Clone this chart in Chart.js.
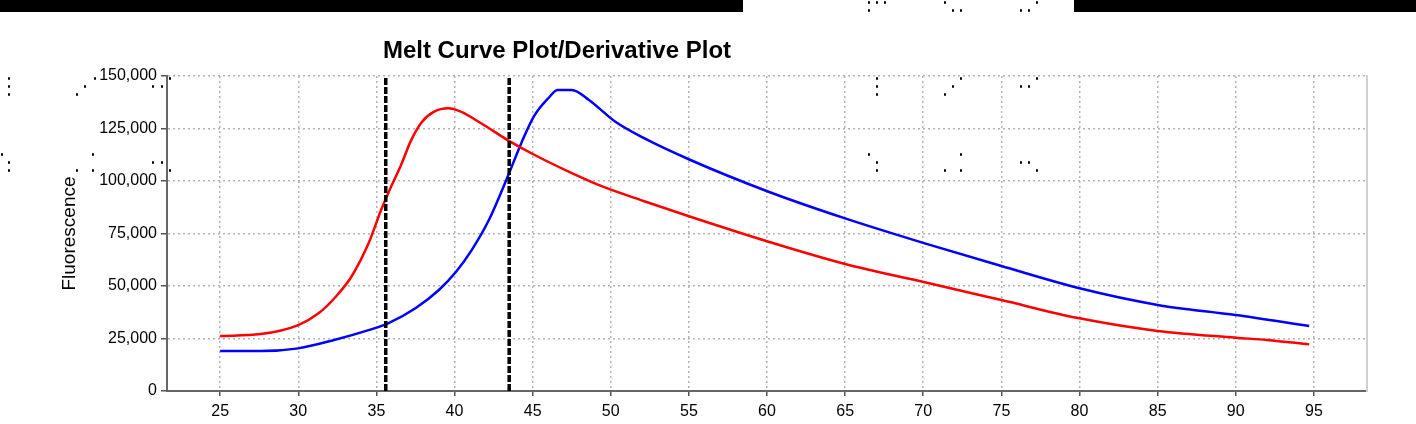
<!DOCTYPE html>
<html>
<head>
<meta charset="utf-8">
<script src="https://cdn.jsdelivr.net/npm/chart.js@4.4.1/dist/chart.umd.min.js"></script>
<style>
  html, body { margin: 0; padding: 0; background: #fff; }
  #wrap { position: relative; width: 1416px; height: 424px; overflow: hidden; }
  #title {
    position: absolute; left: 557px; top: 38px; transform: translateX(-50%);
    font: bold 24px "Liberation Sans", Arial, sans-serif; line-height: 24px;
    color: #000; white-space: nowrap;
  }
  .bar { position: absolute; top: 0; height: 12px; background: #000; }
  .dot { position: absolute; width: 2px; height: 3px; background: #000; border-radius: 1px; }
</style>
</head>
<body>
<div id="wrap">
  <canvas id="chart" width="1416" height="424"></canvas>
  <div id="title">Melt Curve Plot/Derivative Plot</div>
  <div class="bar" style="left:0; width:743px;"></div>
  <div class="bar" style="left:1074px; width:342px;"></div>
</div>
<script>
// 온도 (x) 와 형광값 (y)
const redTemps = [25, 27.6, 30, 31.3, 32.4, 33.4, 34.5, 35.3, 35.75, 36.6, 37.2, 37.9, 38.7, 39.6, 40.4, 41.7, 43.4, 45.1, 47.3, 49.5, 52.1, 55.1, 60.1, 65, 70.1, 75, 80, 85, 90, 92, 94.7];
const redValues = [26200, 27100, 31400, 37000, 44900, 54400, 70300, 86200, 94100, 108000, 119000, 128000, 133000, 134600, 133000, 127500, 119500, 112500, 104500, 97300, 90500, 83000, 71100, 60500, 51800, 43300, 34600, 28600, 25400, 24300, 22200];

const blueTemps = [25, 27.6, 30, 32.3, 34.5, 35.75, 37.5, 39, 40.1, 41.1, 42.2, 43.4, 44.3, 45.1, 46, 46.6, 47.5, 48.6, 50.3, 52.1, 55.1, 60.1, 65, 70.1, 75, 80, 85, 90, 94.7];
const blueValues = [19000, 19000, 20300, 24300, 29000, 32200, 39400, 48100, 56800, 67100, 81400, 102000, 118500, 131000, 139400, 143300, 143300, 138600, 128200, 120500, 110000, 94900, 82200, 70300, 59500, 48900, 41000, 36200, 31000];

// 세로 기준선 (Tm)
const markerTemps = [35.6, 43.5];

const xTicks = [25, 30, 35, 40, 45, 50, 55, 60, 65, 70, 75, 80, 85, 90, 95];
const yTicks = [0, 25000, 50000, 75000, 100000, 125000, 150000];

const FONT = '"Liberation Sans", Arial, sans-serif';

const toPoints = (xs, ys) => xs.map((x, i) => ({ x: x, y: ys[i] }));

const markerSets = markerTemps.map(t => ({
    data: [{ x: t, y: yTicks[0] }, { x: t, y: yTicks[yTicks.length - 1] }],
    borderColor: '#000',
    borderWidth: 3.5,
    borderDash: [7, 2],
    pointRadius: 0,
    order: 0
}));

new Chart(document.getElementById('chart'), {
    type: 'line',
    data: {
        datasets: [
            ...markerSets,
            {
                data: toPoints(redTemps, redValues),
                borderColor: '#ff0000',
                borderWidth: 2.5,
                pointRadius: 0,
                cubicInterpolationMode: 'monotone',
                order: 1
            },
            {
                data: toPoints(blueTemps, blueValues),
                borderColor: '#0000ff',
                borderWidth: 2.5,
                pointRadius: 0,
                cubicInterpolationMode: 'monotone',
                order: 1
            }
        ]
    },
    options: {
        responsive: false,
        animation: false,
        layout: { padding: { left: 0, right: 49, top: 76, bottom: 0 } },
        plugins: {
            legend: { display: false },
            tooltip: { enabled: false }
        },
        scales: {
            x: {
                type: 'linear',
                min: 21.6,
                max: 98.4,
                afterBuildTicks: scale => { scale.ticks = xTicks.map(v => ({ value: v })); },
                afterFit: scale => { scale.height = 33; },
                ticks: {
                    color: '#000',
                    font: { family: FONT, size: 16 },
                    padding: 6,
                    maxRotation: 0
                },
                grid: {
                    color: '#b4b4b4',
                    lineWidth: 1.5,
                    tickColor: '#555',
                    tickLength: 5,
                    tickWidth: 1.5,
                    tickBorderDash: []
                },
                border: { color: '#666', width: 2, dash: [2, 3] }
            },
            y: {
                min: 0,
                max: 150000,
                afterBuildTicks: scale => { scale.ticks = yTicks.map(v => ({ value: v })); },
                afterFit: scale => { scale.width = 167; },
                ticks: {
                    color: '#000',
                    font: { family: FONT, size: 16 },
                    padding: 4,
                    callback: v => v.toLocaleString('en-US')
                },
                title: {
                    display: true,
                    text: 'Fluorescence',
                    color: '#000',
                    font: { family: FONT, size: 19 },
                    padding: { top: 58, bottom: 0 }
                },
                grid: {
                    color: '#b4b4b4',
                    lineWidth: 1.5,
                    tickColor: '#555',
                    tickLength: 6,
                    tickWidth: 1.5,
                    tickBorderDash: []
                },
                border: { color: '#666', width: 2, dash: [2, 3] }
            },
            y2: {
                position: 'right',
                min: 0,
                max: 150000,
                ticks: { display: false },
                grid: { display: false, drawTicks: false },
                afterFit: scale => { scale.width = 0; },
                border: { color: '#d0d0d0', width: 2 }
            }
        }
    }
});

// 원본 이미지의 작은 점 노이즈
const dots = [
    [869,2],[877,2],[885,2],[869,10],[945,2],[953,10],[961,10],[1037,2],[1021,10],[1029,10],
    [877,78],[877,86],[877,94],[961,78],[953,86],[945,94],[1037,78],[1021,86],[1029,86],
    [869,154],[877,162],[877,170],[961,154],[945,170],[961,170],[1021,162],[1029,162],[1037,170],
    [9,78],[9,86],[9,94],[77,94],[85,86],[95,78],[153,86],[162,86],[170,78],
    [2,154],[9,162],[9,170],[93,154],[77,170],[93,170],[153,162],[162,162],[170,170]
];
const wrap = document.getElementById('wrap');
dots.forEach(([x, y]) => {
    const d = document.createElement('div');
    d.className = 'dot';
    d.style.left = (x - 1) + 'px';
    d.style.top = (y - 1) + 'px';
    wrap.appendChild(d);
});
</script>
</body>
</html>
